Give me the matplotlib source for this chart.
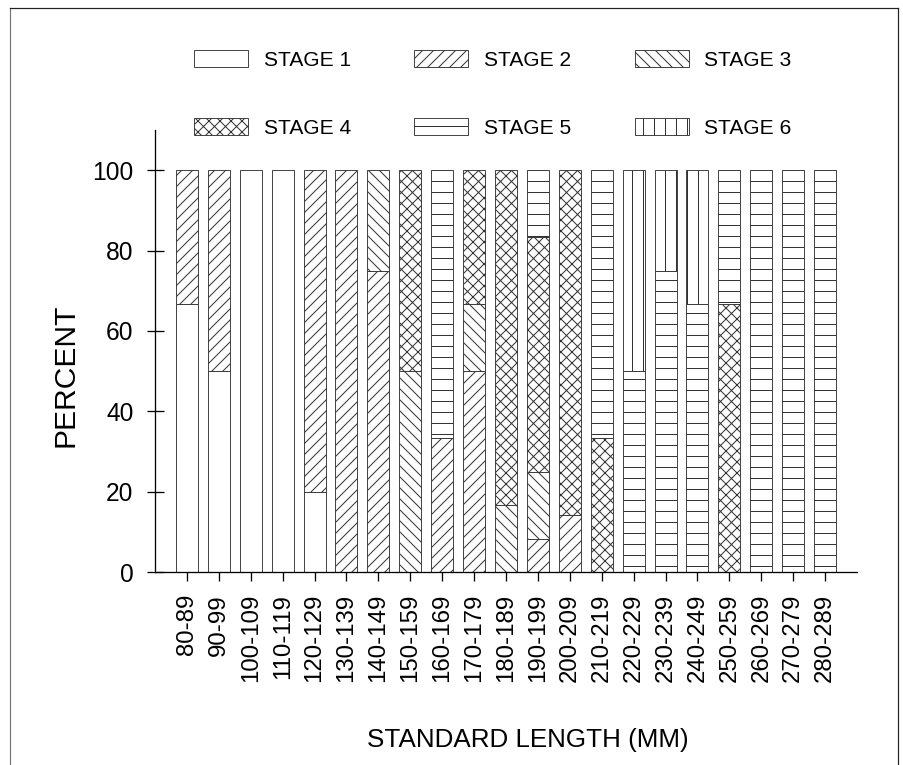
import numpy as np
import matplotlib
matplotlib.use('Agg')
from matplotlib import pyplot as plt
from matplotlib.lines import Line2D

# 数据: percent of fish in each maturity stage per length class
categories = ['80-89', '90-99', '100-109', '110-119', '120-129', '130-139', '140-149',
              '150-159', '160-169', '170-179', '180-189', '190-199', '200-209', '210-219',
              '220-229', '230-239', '240-249', '250-259', '260-269', '270-279', '280-289']
stage1 = [66.7, 50, 100, 100, 20, 0, 0, 0, 0, 0, 0, 0, 0, 0, 0, 0, 0, 0, 0, 0, 0]
stage2 = [33.3, 50, 0, 0, 80, 100, 75, 0, 33.3, 50, 0, 8.3, 14.3, 0, 0, 0, 0, 0, 0, 0, 0]
stage3 = [0, 0, 0, 0, 0, 0, 25, 50, 0, 16.7, 16.7, 16.7, 0, 0, 0, 0, 0, 0, 0, 0, 0]
stage4 = [0, 0, 0, 0, 0, 0, 0, 50, 0, 33.3, 83.3, 58.3, 85.7, 33.3, 0, 0, 0, 66.7, 0, 0, 0]
stage5 = [0, 0, 0, 0, 0, 0, 0, 0, 66.7, 0, 0, 16.7, 0, 66.7, 50, 75, 66.7, 33.3, 100, 100, 100]
stage6 = [0, 0, 0, 0, 0, 0, 0, 0, 0, 0, 0, 0, 0, 0, 50, 25, 33.3, 0, 0, 0, 0]
labels = ['STAGE 1', 'STAGE 2', 'STAGE 3', 'STAGE 4', 'STAGE 5', 'STAGE 6']
hatches = ['', '//', '\\\\', 'xx', '-', '|']

DPI = 66
def px(p):  # pixels -> points
    return p * 72 / DPI

plt.rcParams['font.family'] = ['Liberation Sans', 'DejaVu Sans']
plt.rcParams['hatch.linewidth'] = px(1.0)
plt.rcParams['hatch.color'] = 'black'

fig = plt.figure(figsize=(903 / DPI, 765 / DPI), dpi=DPI)
ax = fig.add_axes([155 / 903, 1 - 572 / 765, 702 / 903, 442 / 765])

x = np.arange(len(categories))
bottom = np.zeros(len(categories))
handles = []
for vals, h, lab in zip([stage1, stage2, stage3, stage4, stage5, stage6], hatches, labels):
    vals = np.array(vals, dtype=float)
    m = vals > 0
    bars = ax.bar(x[m], vals[m], 0.69, bottom=bottom[m], color='white',
                  edgecolor='#333333', hatch=h, linewidth=px(0.9), label=lab)
    handles.append(bars)
    bottom += vals

ax.set_xlim(-1, 21)
ax.set_ylim(0, 110)
ax.set_xticks(x, categories, rotation=90)
ax.set_yticks([0, 20, 40, 60, 80, 100])
for s in ['top', 'right']:
    ax.spines[s].set_visible(False)
for s in ['left', 'bottom']:
    ax.spines[s].set_linewidth(px(1.3))
ax.tick_params(axis='x', direction='out', length=px(9), width=px(1.3),
               labelsize=px(24), pad=px(13))
ax.tick_params(axis='y', direction='inout', length=px(17), width=px(1.3),
               labelsize=px(24.5), pad=px(13))

ax.set_xlabel('STANDARD LENGTH (MM)', fontsize=px(26))
ax.set_ylabel('PERCENT', fontsize=px(30))
ax.xaxis.set_label_coords(0.531, -0.353)
ax.yaxis.set_label_coords(-0.107, 0.446)

# legend, row by row
order = [0, 3, 1, 4, 2, 5]
fig.legend([handles[i] for i in order], [labels[i] for i in order], ncol=3,
           loc='upper left', bbox_to_anchor=(194 / 903, 1 - 50 / 765),
           frameon=False, fontsize=px(21), handlelength=54 / 21, handleheight=18 / 21,
           handletextpad=16 / 21, columnspacing=63 / 21, labelspacing=2.3,
           borderpad=0, borderaxespad=0)

# 外框
fig.add_artist(Line2D([10 / 903, 10 / 903], [0, 1 - 8 / 765], transform=fig.transFigure,
                      color='#777777', lw=px(1.2)))
fig.add_artist(Line2D([10 / 903, 898 / 903], [1 - 8 / 765, 1 - 8 / 765], transform=fig.transFigure,
                      color='#222222', lw=px(1.2)))
fig.add_artist(Line2D([898 / 903, 898 / 903], [0, 1 - 8 / 765], transform=fig.transFigure,
                      color='#222222', lw=px(1.2)))

plt.savefig('out.png', dpi=DPI)
